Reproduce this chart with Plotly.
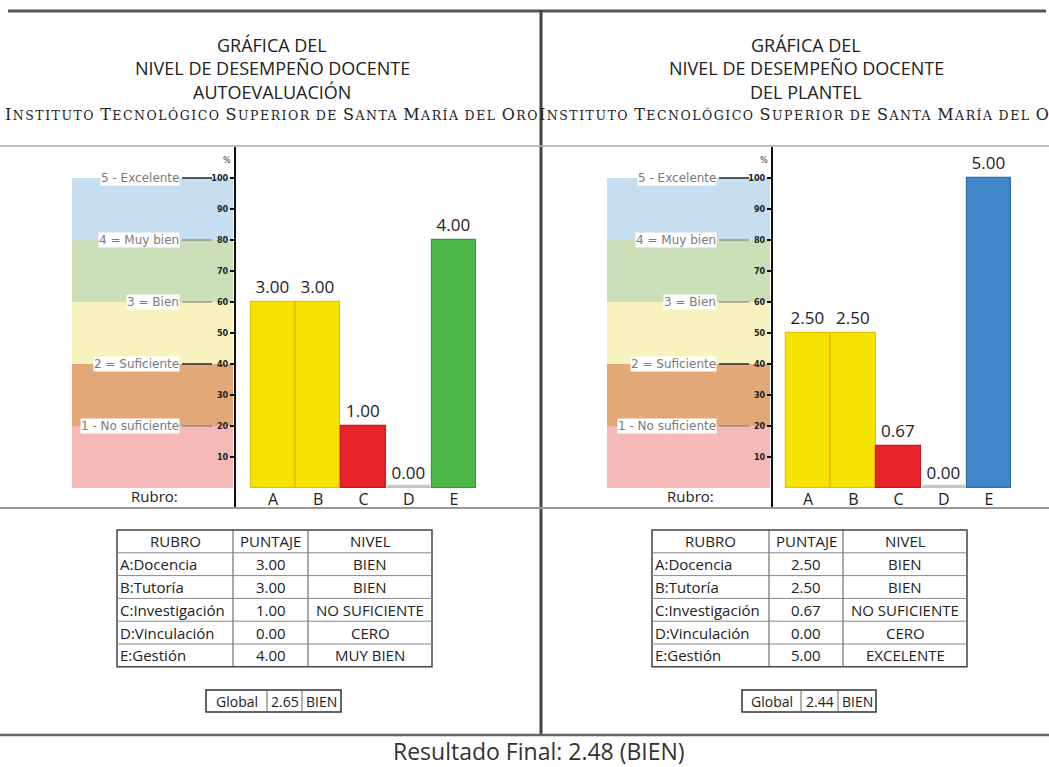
import plotly.graph_objects as go

W, H = 1049, 767

# ---------------- data ----------------
rubros = ["A", "B", "C", "D", "E"]
rubro_nombres = ["A:Docencia", "B:Tutoría", "C:Investigación", "D:Vinculación", "E:Gestión"]

auto_puntaje = [3.00, 3.00, 1.00, 0.00, 4.00]
auto_nivel = ["BIEN", "BIEN", "NO SUFICIENTE", "CERO", "MUY BIEN"]
auto_global = 2.65
auto_global_nivel = "BIEN"

plantel_puntaje = [2.50, 2.50, 0.67, 0.00, 5.00]
plantel_nivel = ["BIEN", "BIEN", "NO SUFICIENTE", "CERO", "EXCELENTE"]
plantel_global = 2.44
plantel_global_nivel = "BIEN"

resultado_final = 2.48
resultado_nivel = "BIEN"

escala_etiquetas = ["1 - No suficiente", "2 = Suficiente", "3 = Bien", "4 = Muy bien", "5 - Excelente"]
escala_pct = [20, 40, 60, 80, 100]
y_ticks = [10, 20, 30, 40, 50, 60, 70, 80, 90, 100]

titulo_auto = ["GRÁFICA DEL", "NIVEL DE DESEMPEÑO DOCENTE", "AUTOEVALUACIÓN"]
titulo_plantel = ["GRÁFICA DEL", "NIVEL DE DESEMPEÑO DOCENTE", "DEL PLANTEL"]
instituto = "Instituto Tecnológico Superior de Santa María del Oro"
encabezados = ["RUBRO", "PUNTAJE", "NIVEL"]

# ---------------- styles ----------------
FONT = "Open Sans"
band_colors = ["#F6B9B9", "#E3A877", "#F8F3BE", "#CBDFB9", "#C7DDF0"]
nivel_color = {"BIEN": "#F5E400", "NO SUFICIENTE": "#E8232A", "CERO": "#C8C8C8",
               "MUY BIEN": "#4DB848", "EXCELENTE": "#3E86C8"}
nivel_edge = {"BIEN": "#E6C200", "NO SUFICIENTE": "#C81A1E", "CERO": "#B0B0B0",
              "MUY BIEN": "#3E9A3A", "EXCELENTE": "#2F70AA"}


def px(x):
    return x / W


def py(y):
    return 1 - y / H


def small_caps(text, small=12.5, ls=1.5):
    out = []
    for w in text.split(" "):
        if w[0].isupper():
            out.append("<span style='letter-spacing:%spx'>%s</span>"
                       "<span style='font-size:%spx;letter-spacing:%spx'>%s</span>"
                       % (ls, w[0], small, ls, w[1:].upper()))
        else:
            out.append("<span style='font-size:%spx;letter-spacing:%spx'>%s</span>"
                       % (small, ls, w.upper()))
    return " ".join(out)


def txt(x, y, text, size=13, family=FONT, color="#222", xanchor="center", **kw):
    d = dict(x=x, y=y, xref="paper", yref="paper", text=text, showarrow=False,
             xanchor=xanchor, yanchor="middle", font=dict(family=family, size=size, color=color))
    d.update(kw)
    return d


panels = [
    dict(p=auto_puntaje, n=auto_nivel, g=auto_global, gn=auto_global_nivel, t=titulo_auto,
         xa="x", ya="y", band=(72, 233), axis=235, dom=(235, 530), lab_r=180, line=(182, 212),
         pct=(227, 160), rubro=155, tc=272, tab_x=117, cols=[116, 75, 124],
         gx=206, gcols=[61, 35, 39], xr=(-0.84, 5.68)),
    dict(p=plantel_puntaje, n=plantel_nivel, g=plantel_global, gn=plantel_global_nivel, t=titulo_plantel,
         xa="x2", ya="y2", band=(607, 770), axis=772, dom=(772, 1045), lab_r=717, line=(719, 749),
         pct=(764, 160), rubro=690, tc=806, tab_x=652, cols=[117, 74, 124],
         gx=742, gcols=[59, 37, 38], xr=(-0.80, 5.24)),
]

Y0, YTOP = 488, 147           # pixel of value 0 and top of plot area
YMAX = 110

fig = go.Figure()
shapes = []
ann = []

for k, P in enumerate(panels):
    pcts = [v * 20 for v in P["p"]]
    xs = list(range(len(rubros)))
    fig.add_trace(go.Bar(
        x=xs, y=pcts, xaxis=P["xa"], yaxis=P["ya"], width=0.98,
        marker=dict(color=[nivel_color[n] for n in P["n"]],
                    line=dict(color=[nivel_edge[n] for n in P["n"]], width=1.2)),
        text=["%.2f" % v for v in P["p"]], textposition="outside", cliponaxis=False,
        textfont=dict(family=FONT, size=17, color="#222"), showlegend=False, hoverinfo="skip"))
    # zero-value bars drawn as thin gray stubs
    for i, v in enumerate(P["p"]):
        if v == 0:
            fig.add_trace(go.Scatter(x=[i - 0.47, i + 0.47], y=[0.6, 0.6], mode="lines",
                                     xaxis=P["xa"], yaxis=P["ya"],
                                     line=dict(color="#C8C8C8", width=3), showlegend=False,
                                     hoverinfo="skip"))
    # background bands
    edges = [0] + escala_pct
    for b in range(5):
        shapes.append(dict(type="rect", xref="paper", yref=P["ya"], layer="below",
                           x0=px(P["band"][0]), x1=px(P["band"][1]), y0=edges[b], y1=edges[b + 1],
                           fillcolor=band_colors[b], line=dict(width=0)))
    # scale labels and leader lines
    for lab, lv in zip(escala_etiquetas, escala_pct):
        shapes.append(dict(type="line", xref="paper", yref=P["ya"], x0=px(P["line"][0]),
                           x1=px(P["line"][1]), y0=lv, y1=lv,
                           line=dict(color="#333" if lv in (40, 100) else "#777",
                                     width=1.6 if lv in (40, 100) else 1)))
        ann.append(dict(x=px(P["lab_r"]), y=lv, xref="paper", yref=P["ya"], text=lab,
                        xanchor="right", yanchor="middle", showarrow=False, bgcolor="white",
                        borderpad=0, font=dict(family="DejaVu Sans", size=12, color="#7a7a7a")))
    # axis line
    shapes.append(dict(type="line", xref="paper", yref="paper", x0=px(P["axis"]), x1=px(P["axis"]),
                       y0=py(147), y1=py(507), line=dict(color="#111", width=2)))
    ann.append(txt(px(P["pct"][0]), py(P["pct"][1]), "%", size=9, family="DejaVu Sans Condensed",
                   color="#333"))
    ann.append(txt(px(P["rubro"]), py(496), "Rubro:", size=15))
    # titles
    for t, yy in zip(P["t"], [45, 68, 92]):
        ann.append(txt(px(P["tc"]), py(yy), t, size=18))
    ann.append(txt(px(P["tc"]), py(115), small_caps(instituto), size=16, family="DejaVu Serif"))
    # table
    rows = [encabezados] + [[rubro_nombres[i], "%.2f" % P["p"][i], P["n"][i]] for i in range(5)]
    rh = 22.8
    ty0 = 530
    cx = [P["tab_x"], P["tab_x"] + P["cols"][0], P["tab_x"] + P["cols"][0] + P["cols"][1],
          P["tab_x"] + sum(P["cols"])]
    shapes.append(dict(type="rect", xref="paper", yref="paper", x0=px(cx[0]), x1=px(cx[3]),
                       y0=py(ty0), y1=py(ty0 + 6 * rh), line=dict(color="#444", width=1.5)))
    for c in (1, 2):
        shapes.append(dict(type="line", xref="paper", yref="paper", x0=px(cx[c]), x1=px(cx[c]),
                           y0=py(ty0), y1=py(ty0 + 6 * rh), line=dict(color="#555", width=1)))
    for r in range(1, 6):
        shapes.append(dict(type="line", xref="paper", yref="paper", x0=px(cx[0]), x1=px(cx[3]),
                           y0=py(ty0 + r * rh), y1=py(ty0 + r * rh), line=dict(color="#888", width=1)))
    for r, row in enumerate(rows):
        yc = ty0 + (r + 0.5) * rh
        for c, s in enumerate(row):
            if c == 0 and r > 0:
                ann.append(txt(px(cx[0] + 1), py(yc), s, size=15, xanchor="left"))
            else:
                ann.append(txt(px((cx[c] + cx[c + 1]) / 2), py(yc), s, size=15))
    # global box
    gy0, gy1 = 690, 712
    gx = [P["gx"], P["gx"] + P["gcols"][0], P["gx"] + P["gcols"][0] + P["gcols"][1],
          P["gx"] + sum(P["gcols"])]
    shapes.append(dict(type="rect", xref="paper", yref="paper", x0=px(gx[0]), x1=px(gx[3]),
                       y0=py(gy0), y1=py(gy1), line=dict(color="#333", width=1.5)))
    for c in (1, 2):
        shapes.append(dict(type="line", xref="paper", yref="paper", x0=px(gx[c]), x1=px(gx[c]),
                           y0=py(gy0), y1=py(gy1), line=dict(color="#666", width=1)))
    for c, s in enumerate(["Global", "%.2f" % P["g"], P["gn"]]):
        ann.append(txt(px((gx[c] + gx[c + 1]) / 2), py((gy0 + gy1) / 2), s, size=14))

# frame lines
shapes += [
    dict(type="line", xref="paper", yref="paper", x0=px(8), x1=px(1046), y0=py(11), y1=py(11),
         line=dict(color="#555", width=3)),
    dict(type="line", xref="paper", yref="paper", x0=px(541), x1=px(541), y0=py(10), y1=py(736),
         line=dict(color="#444", width=3)),
    dict(type="line", xref="paper", yref="paper", x0=px(0), x1=px(1049), y0=py(146), y1=py(146),
         line=dict(color="#AAA", width=1.5)),
    dict(type="line", xref="paper", yref="paper", x0=px(0), x1=px(1049), y0=py(508), y1=py(508),
         line=dict(color="#999", width=2)),
    dict(type="line", xref="paper", yref="paper", x0=px(0), x1=px(1049), y0=py(735), y1=py(735),
         line=dict(color="#666", width=2.5)),
]
ann.append(txt(px(539), py(751), "Resultado Final: %.2f (%s)" % (resultado_final, resultado_nivel),
               size=23, color="#333"))

ydom = [py(Y0), py(YTOP)]
axis_common_y = dict(range=[0, YMAX], domain=ydom, showgrid=False, zeroline=False, showline=False,
                     tickvals=y_ticks, ticks="outside", ticklen=4, tickwidth=1.5, tickcolor="#111",
                     tickfont=dict(family="DejaVu Sans Condensed", size=9, color="#222", weight="bold"))
axis_common_x = dict(showgrid=False, zeroline=False, showline=False, tickvals=list(range(5)),
                     ticktext=rubros, ticks="", tickfont=dict(family=FONT, size=16, color="#222"))

fig.update_layout(
    width=W, height=H, margin=dict(l=0, r=0, t=0, b=0), paper_bgcolor="white", plot_bgcolor="rgba(0,0,0,0)",
    xaxis=dict(domain=[px(panels[0]["dom"][0]), px(panels[0]["dom"][1])], range=list(panels[0]["xr"]),
               anchor="y", **axis_common_x),
    yaxis=dict(anchor="x", **axis_common_y),
    xaxis2=dict(domain=[px(panels[1]["dom"][0]), px(panels[1]["dom"][1])], range=list(panels[1]["xr"]),
                anchor="y2", **axis_common_x),
    yaxis2=dict(anchor="x2", **axis_common_y),
    shapes=shapes, annotations=ann, bargap=0,
)

fig.write_html("out.html", config={"displayModeBar": False},
               post_script="document.body.style.margin='0px';document.body.style.overflow='hidden';")
